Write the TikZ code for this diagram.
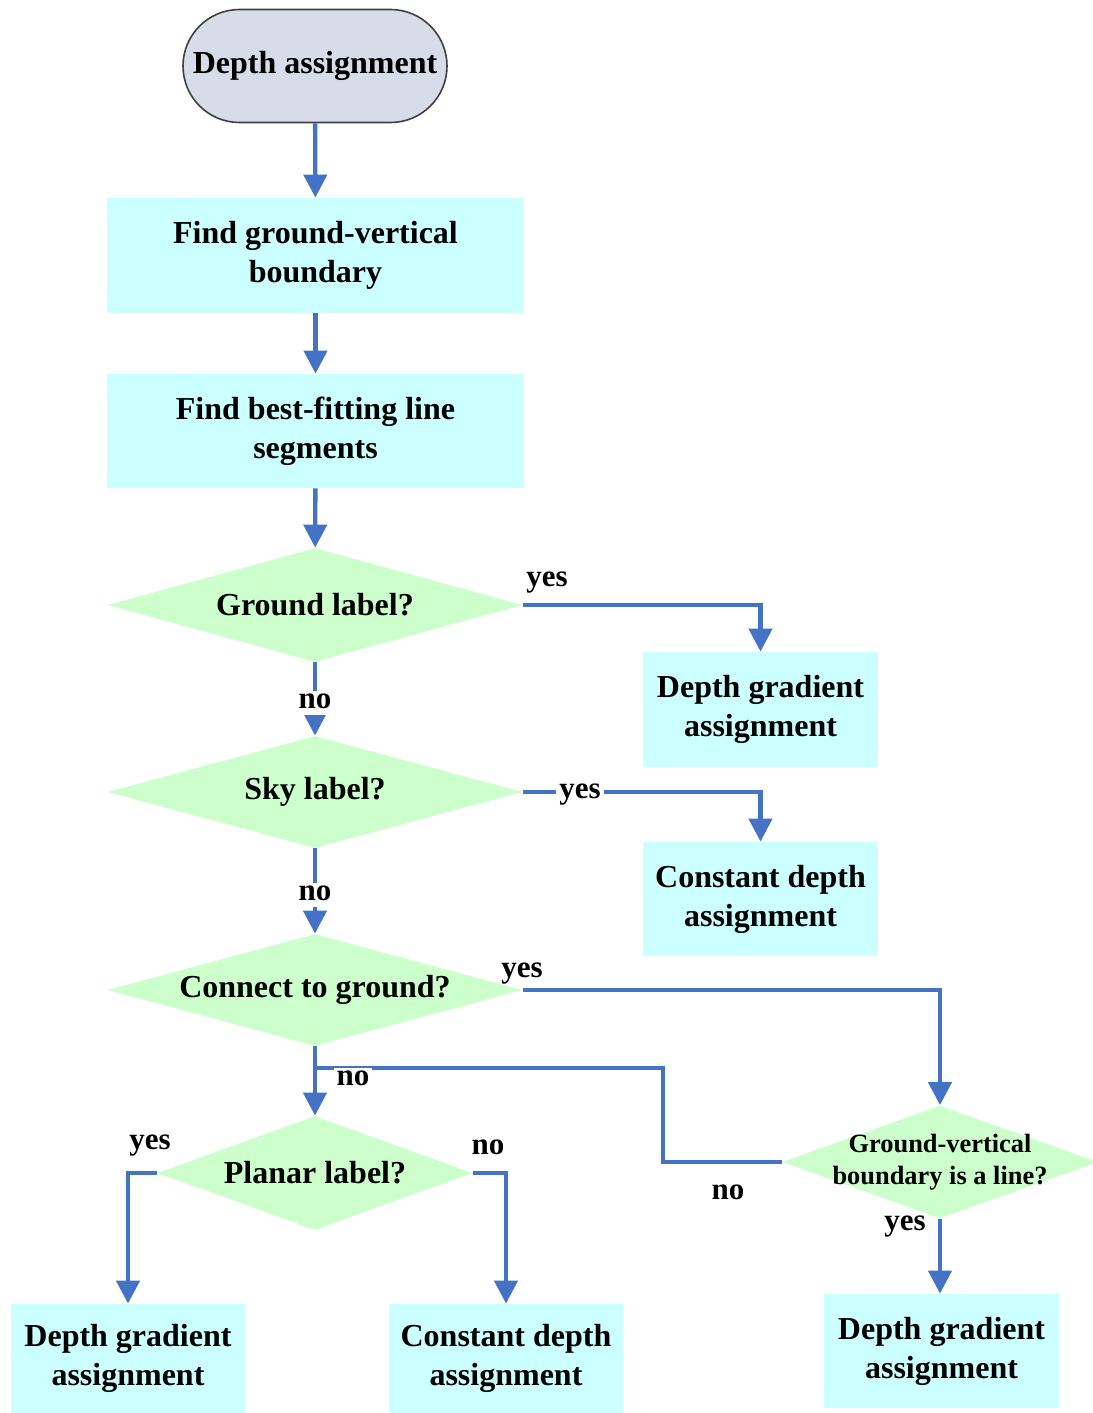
\documentclass[tikz,border=0pt]{standalone}
\usepackage{fontspec}
\setmainfont{Liberation Serif}
\usetikzlibrary{shapes.geometric,shapes.misc,arrows.meta}
\definecolor{boxc}{HTML}{CCFFFF}
\definecolor{diac}{HTML}{CCFFCC}
\definecolor{termc}{HTML}{D6DDE9}
\definecolor{linec}{HTML}{4472C4}
\begin{document}
\begin{tikzpicture}[x=0.5pt,y=-0.5pt,
  txt/.style={font=\fontsize{16}{19.5}\selectfont\bfseries, align=center, text=black},
  smalltxt/.style={font=\fontsize{13.2}{16}\selectfont\bfseries, align=center, text=black},
  procbox/.style={txt, fill=boxc, inner sep=0pt},
  dia/.style={diamond, fill=diac, inner sep=0pt, aspect=3.7},
  arr/.style={draw=linec, line width=2.2pt, -{Triangle[length=11.5pt,width=11.5pt]}},
  conn/.style={draw=linec, line width=2.2pt},
  lab/.style={font=\fontsize{15.5}{18}\selectfont\bfseries, inner sep=1.5pt, text height=1.6ex, text depth=0.45ex},
  wlab/.style={lab, fill=white}]
\useasboundingbox (0,0) rectangle (1092,1413);

\node[txt, rounded rectangle, draw=black!75, line width=0.8pt, fill=termc,
      minimum width=132pt, minimum height=56.5pt, inner sep=0pt] (term) at (315,66) {Depth assignment};
\node[procbox, minimum width=208.5pt, minimum height=57.5pt] (b1) at (315.5,255.5) {Find ground-vertical\\boundary};
\node[procbox, minimum width=208.5pt, minimum height=57pt] (b2) at (315.5,431) {Find best-fitting line\\segments};
\node[dia, minimum width=207.5pt, minimum height=57pt, label={[txt]center:Ground label?}] (d1) at (315,605) {};
\node[procbox, minimum width=117.5pt, minimum height=57.5pt] (g1) at (760.5,709.5) {Depth gradient\\assignment};
\node[dia, minimum width=207.5pt, minimum height=56pt, label={[txt]center:Sky label?}] (d2) at (315,792) {};
\node[procbox, minimum width=117.5pt, minimum height=57pt] (c1) at (760.5,899) {Constant depth\\assignment};
\node[dia, minimum width=207.5pt, minimum height=56pt, label={[txt]center:Connect to ground?}] (d3) at (315,990) {};
\node[dia, minimum width=157.5pt, minimum height=57pt, label={[txt]center:Planar label?}] (d4) at (315,1173) {};
\node[dia, minimum width=158pt, minimum height=56.5pt, label={[smalltxt]center:Ground-vertical\\boundary is a line?}] (d5) at (940,1162) {};
\node[procbox, minimum width=117pt, minimum height=54.5pt] (g2) at (128,1358.5) {Depth gradient\\assignment};
\node[procbox, minimum width=117pt, minimum height=54.5pt] (c2) at (506,1358.5) {Constant depth\\assignment};
\node[procbox, minimum width=117.5pt, minimum height=57pt] (g3) at (941.5,1351) {Depth gradient\\assignment};

\coordinate (bend1) at (663,1162);
\coordinate (bend2) at (663,1068);
\coordinate (join) at (315,1068);

\draw[arr] (term) -- (b1);
\draw[arr] (b1) -- (b2);
\draw[arr] (b2) -- (d1);
\draw[arr] (d1.east) -| (g1.north);
\draw[arr] (d1.south) -- (d2.north);
\draw[arr] (d2.east) -| (c1.north);
\draw[arr] (d2.south) -- (d3.north);
\draw[arr] (d3.east) -| (d5.north);
\draw[arr] (d3.south) -- (d4.north);
\draw[conn] (d5.west) -- (bend1) -- (bend2) -- (join);
\draw[arr] (d4.west) -| (g2.north);
\draw[arr] (d4.east) -| (c2.north);
\draw[arr] (d5.south) -- (d5.south |- g3.north);

\node[lab] (l1) at (547,581) {yes};
\node[wlab] (l2) at (315,703) {no};
\node[wlab] (l3) at (580,793) {yes};
\node[wlab] (l4) at (315,895) {no};
\node[lab] (l5) at (522,972) {yes};
\node[wlab] (l6) at (353,1080) {no};
\node[lab] (l7) at (728,1194) {no};
\node[lab] (l8) at (150,1144) {yes};
\node[lab] (l9) at (488,1149) {no};
\node[wlab] (l10) at (905,1225) {yes};
\end{tikzpicture}
\end{document}
